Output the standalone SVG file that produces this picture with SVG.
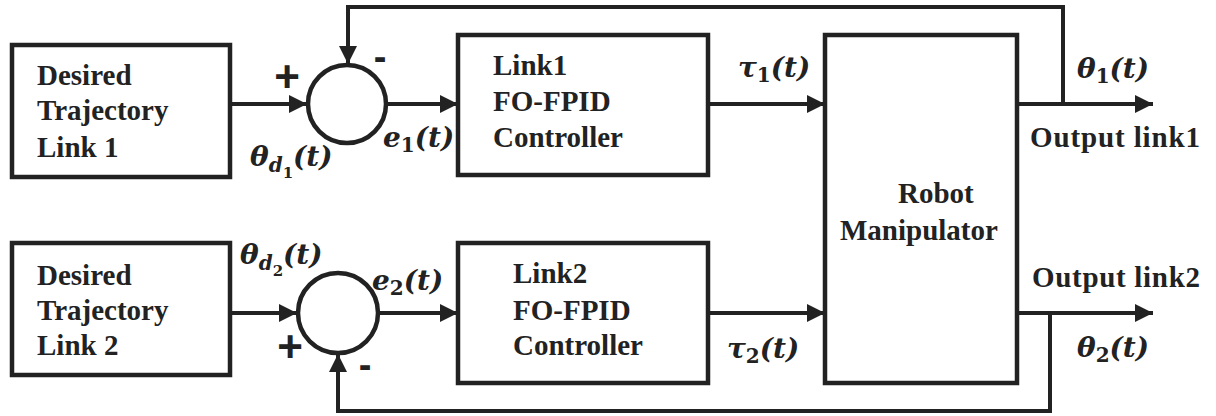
<svg xmlns="http://www.w3.org/2000/svg" width="1216" height="416" viewBox="0 0 1216 416">
  <defs>
    <marker id="arrow" viewBox="0 0 10 10" refX="10" refY="5" markerWidth="18" markerHeight="18" markerUnits="userSpaceOnUse" orient="auto">
      <path d="M0,0 L10,5 L0,10 Z" fill="#222"/>
    </marker>
    <style>
      .blk { fill: #fff; stroke: #222; stroke-width: 4.5; }
      .sum { fill: #fff; stroke: #222; stroke-width: 4.5; }
      .wire { fill: none; stroke: #222; stroke-width: 4; }
      .arr { fill: none; stroke: #222; stroke-width: 4; marker-end: url(#arrow); }
      .lbl { font-family: "Liberation Serif", "Times New Roman", serif; font-weight: bold; font-size: 29px; fill: #222; }
      .math { font-family: "DejaVu Serif", "Liberation Serif", serif; font-weight: bold; font-style: italic; font-size: 28px; fill: #222; }
      .num { font-style: normal; }
      .sign { font-family: "Liberation Sans", Arial, sans-serif; font-weight: bold; fill: #222; }
    </style>
  </defs>

  <rect width="1216" height="416" fill="#fff"/>

  <!-- connectors -->
  <g id="connectors">
    <!-- link 1 forward path -->
    <line class="arr" x1="230" y1="104" x2="307" y2="104"/>
    <line class="arr" x1="387" y1="104" x2="458" y2="104"/>
    <line class="arr" x1="708" y1="104" x2="825" y2="104"/>
    <line class="arr" x1="1017" y1="104" x2="1153" y2="104"/>
    <!-- link 1 feedback -->
    <polyline class="wire" points="1063,104 1063,7 348,7 348,48"/>
    <line class="arr" x1="348" y1="40" x2="348" y2="64"/>
    <!-- link 2 forward path -->
    <line class="arr" x1="230" y1="313" x2="297" y2="313"/>
    <line class="arr" x1="378" y1="313" x2="458" y2="313"/>
    <line class="arr" x1="708" y1="313" x2="825" y2="313"/>
    <line class="arr" x1="1017" y1="313" x2="1153" y2="313"/>
    <!-- link 2 feedback -->
    <polyline class="wire" points="1050,313 1050,411 338,411 338,378"/>
    <line class="arr" x1="338" y1="385" x2="338" y2="354"/>
  </g>

  <!-- desired trajectory, link 1 -->
  <g id="ref1">
    <rect class="blk" x="12" y="45" width="218" height="132"/>
    <text class="lbl" x="37" y="85">Desired</text>
    <text class="lbl" x="37" y="120">Trajectory</text>
    <text class="lbl" x="37" y="157">Link 1</text>
  </g>

  <!-- summing junction, link 1 -->
  <g id="sum1">
    <circle class="sum" cx="347" cy="104" r="39"/>
    <text class="sign" x="287" y="92" font-size="44" text-anchor="middle">+</text>
    <text class="sign" x="380" y="70" font-size="38" text-anchor="middle">-</text>
  </g>

  <!-- controller, link 1 -->
  <g id="ctrl1">
    <rect class="blk" x="458" y="35" width="250" height="140"/>
    <text class="lbl" x="493" y="75">Link1</text>
    <text class="lbl" x="493" y="111">FO-FPID</text>
    <text class="lbl" x="493" y="147">Controller</text>
  </g>

  <!-- desired trajectory, link 2 -->
  <g id="ref2">
    <rect class="blk" x="12" y="243" width="218" height="132"/>
    <text class="lbl" x="37" y="285">Desired</text>
    <text class="lbl" x="37" y="320">Trajectory</text>
    <text class="lbl" x="37" y="355">Link 2</text>
  </g>

  <!-- summing junction, link 2 -->
  <g id="sum2">
    <circle class="sum" cx="338" cy="313" r="40"/>
    <text class="sign" x="290" y="362" font-size="44" text-anchor="middle">+</text>
    <text class="sign" x="365" y="378" font-size="38" text-anchor="middle">-</text>
  </g>

  <!-- controller, link 2 -->
  <g id="ctrl2">
    <rect class="blk" x="458" y="243" width="250" height="140"/>
    <text class="lbl" x="513" y="283">Link2</text>
    <text class="lbl" x="513" y="320">FO-FPID</text>
    <text class="lbl" x="513" y="355">Controller</text>
  </g>

  <!-- plant -->
  <g id="robot">
    <rect class="blk" x="825" y="35" width="192" height="348"/>
    <text class="lbl" x="898" y="203">Robot</text>
    <text class="lbl" x="840" y="240">Manipulator</text>
  </g>

  <!-- signal labels -->
  <g id="labels">
    <text class="math" x="250" y="166">θ<tspan font-size="20" dy="6">d</tspan><tspan class="num" font-size="15" dy="6">1</tspan><tspan dy="-12">(t)</tspan></text>
    <text class="math" x="383" y="147">e<tspan class="num" font-size="20" dy="5">1</tspan><tspan dy="-5">(t)</tspan></text>
    <text class="math" x="738" y="77">τ<tspan class="num" font-size="20" dy="5">1</tspan><tspan dy="-5">(t)</tspan></text>
    <text class="math" x="1077" y="78">θ<tspan class="num" font-size="20" dy="5">1</tspan><tspan dy="-5">(t)</tspan></text>
    <text class="lbl" x="1030" y="147" textLength="170" lengthAdjust="spacing">Output link1</text>

    <text class="math" x="240" y="264">θ<tspan font-size="20" dy="6">d</tspan><tspan class="num" font-size="15" dy="6">2</tspan><tspan dy="-12">(t)</tspan></text>
    <text class="math" x="372" y="290">e<tspan class="num" font-size="20" dy="5">2</tspan><tspan dy="-5">(t)</tspan></text>
    <text class="math" x="727" y="358">τ<tspan class="num" font-size="20" dy="5">2</tspan><tspan dy="-5">(t)</tspan></text>
    <text class="math" x="1077" y="357">θ<tspan class="num" font-size="20" dy="5">2</tspan><tspan dy="-5">(t)</tspan></text>
    <text class="lbl" x="1032" y="287" textLength="168" lengthAdjust="spacing">Output link2</text>
  </g>
</svg>
